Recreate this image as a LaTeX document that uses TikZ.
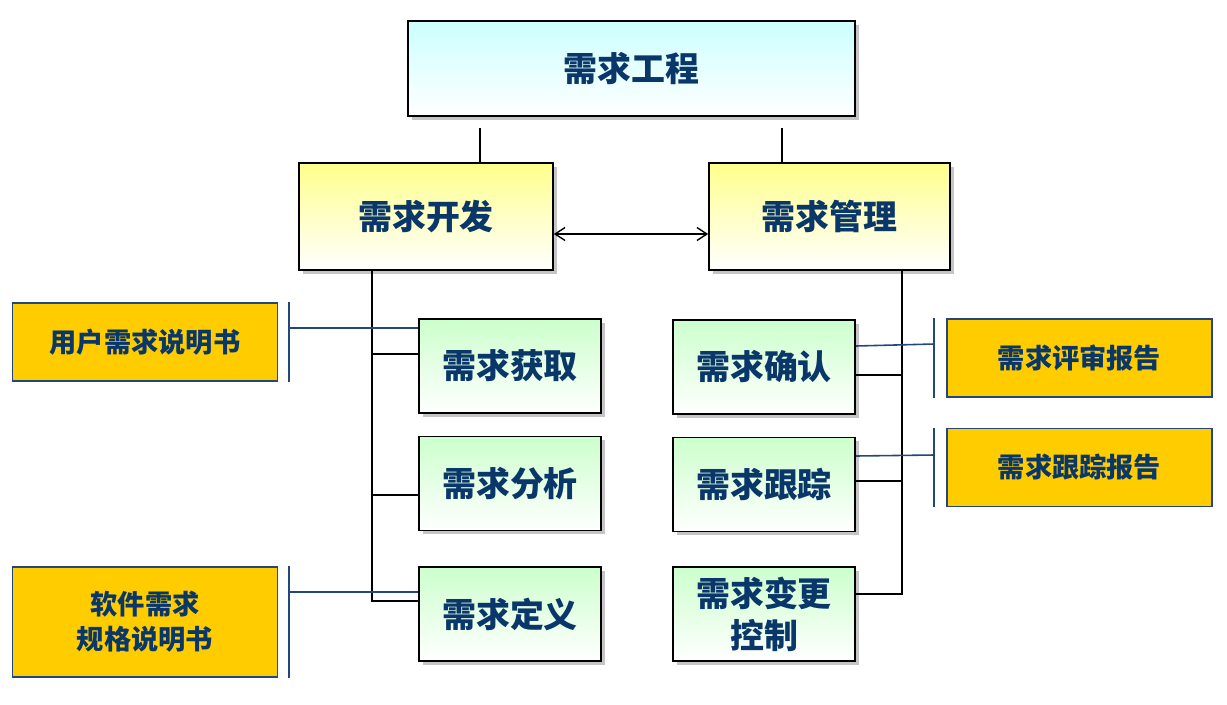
\documentclass[tikz,border=0pt]{standalone}
\usepackage{fontspec}
\newfontfamily\cjk{Noto Sans CJK SC}
\usepackage{tikz}
\usetikzlibrary{shadows,positioning,arrows.meta}
\definecolor{navy}{RGB}{10,55,105}
\definecolor{docfill}{RGB}{255,204,0}
\definecolor{docline}{RGB}{35,70,125}

\begin{document}
\begin{tikzpicture}[
    box/.style={draw=black, line width=0.9pt, text=navy, font=\cjk\bfseries\fontsize{19.3}{24}\selectfont,
        align=center, drop shadow={shadow xshift=0.07cm, shadow yshift=-0.07cm, fill=black!45}},
    topbox/.style={box, top color=cyan!20, bottom color=white, minimum width=8.94cm, minimum height=1.9cm},
    mainbox/.style={box, top color=yellow!45, bottom color=white, minimum height=2.14cm},
    subbox/.style={box, top color=green!20, bottom color=white, minimum width=3.64cm, minimum height=1.88cm},
    docbox/.style={draw=docline, line width=0.9pt, fill=docfill, text=navy, align=center,
        font=\cjk\bfseries\fontsize{15.5}{20}\selectfont, minimum width=5.3cm, minimum height=1.56cm},
    link/.style={line width=0.8pt},
    doclink/.style={draw=docline, line width=0.9pt}
]
    \useasboundingbox (0,0) rectangle (24.54,-14.08);
    \node[topbox] (eng) at (12.63,-1.37) {需求工程};
    \node[mainbox, minimum width=5.08cm] (dev) at (8.52,-4.33) {需求开发};
    \node[mainbox, minimum width=4.82cm] (mgmt) at (16.59,-4.33) {需求管理};

    \node[subbox] (acq) at (10.20,-7.32) {需求获取};
    \node[subbox] (ana) at (10.20,-9.67) {需求分析};
    \node[subbox] (def) at (10.20,-12.28) {需求定义};
    \node[subbox] (ver) at (15.28,-7.34) {需求确认};
    \node[subbox] (trk) at (15.28,-9.69) {需求跟踪};
    \node[subbox] (chg) at (15.28,-12.28) {需求变更\\控制};

    \node[docbox] (urs) at (2.90,-6.84) {用户需求说明书};
    \node[docbox, minimum height=2.2cm] (srs) at (2.90,-12.44) {软件需求\\规格说明书};
    \node[docbox] (rev) at (21.59,-7.16) {需求评审报告};
    \node[docbox] (rep) at (21.59,-9.35) {需求跟踪报告};

    % upper level
    \coordinate (u1) at (9.60,-2.56);
    \coordinate (u2) at (15.64,-2.56);
    \draw[link] (u1) -- (u1 |- dev.north);
    \draw[link] (u2) -- (u2 |- mgmt.north);
    \draw[link, {Straight Barb[length=0.2cm,width=0.26cm]}-{Straight Barb[length=0.2cm,width=0.26cm]}]
        (dev.east |- 0,-4.68) -- (mgmt.west |- 0,-4.68);

    % development branch
    \coordinate (ld) at (7.44,-12.02);
    \draw[link] (ld |- dev.south) -- (ld) -- (def.west |- ld);
    \foreach \n/\y in {acq/-7.08, ana/-9.90}
        \draw[link] (7.44,\y) -- (\n.west |- 0,\y);

    % management branch
    \coordinate (rd) at (18.04,-11.88);
    \draw[link] (rd |- mgmt.south) -- (rd) -- (chg.east |- rd);
    \foreach \n/\y in {ver/-7.50, trk/-9.62}
        \draw[link] (18.04,\y) -- (\n.east |- 0,\y);

    % documents
    \coordinate (bl) at (5.78,0);
    \coordinate (br) at (18.68,0);
    \draw[doclink] (bl |- urs.north) -- (bl |- urs.south);
    \draw[doclink] (bl |- 0,-6.56) -- (acq.west |- 0,-6.56);
    \draw[doclink] (bl |- srs.north) -- (bl |- srs.south);
    \draw[doclink] (bl |- 0,-11.84) -- (def.west |- 0,-11.84);
    \draw[doclink] (br |- rev.north) -- (br |- rev.south);
    \draw[doclink] (ver.east |- 0,-6.92) -- (br |- 0,-6.88);
    \draw[doclink] (br |- rep.north) -- (br |- rep.south);
    \draw[doclink] (trk.east |- 0,-9.12) -- (br |- 0,-9.10);
\end{tikzpicture}
\end{document}
